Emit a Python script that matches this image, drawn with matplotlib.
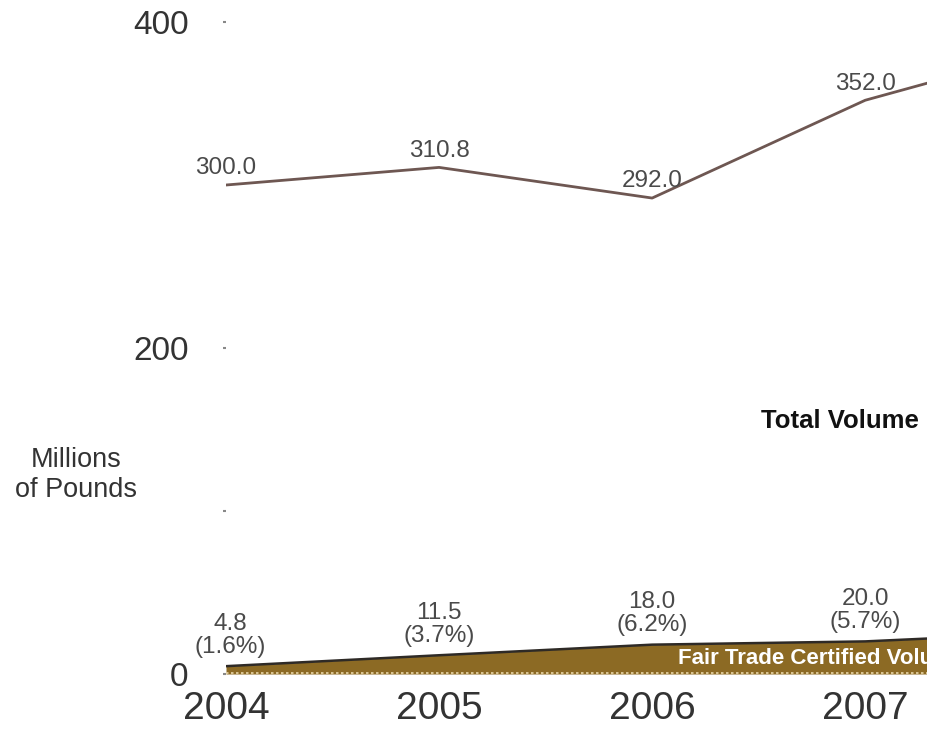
import numpy as np
import matplotlib.pyplot as plt

plt.rcParams['font.family'] = ['Liberation Sans', 'DejaVu Sans']

# data (2008 is only partly visible at the right edge)
years = [2004, 2005, 2006, 2007, 2008]
total = [300.0, 310.8, 292.0, 352.0, 388.0]
fair = [4.8, 11.5, 18.0, 20.0, 26.0]
fair_pct = ['1.6%', '3.7%', '6.2%', '5.7%', '']
ytick_vals = [0, 100, 200, 400]
ytick_labels = ['0', '', '200', '400']

fig = plt.figure(figsize=(9.27, 7.33), dpi=100)
ax = fig.add_axes([0.2438, 0.0805, 0.7562, 0.9117])

# fair trade area
ax.fill_between(years, 0, fair, color='#8c6a24', lw=0, zorder=2)
ax.plot(years, fair, color='#2e2a26', lw=1.8, zorder=3)
ax.plot([2004, 2008], [0.8, 0.8], color='#e8d6a8', lw=1.2, ls=(0, (1.5, 1.5)), zorder=3)

# total volume line
ax.plot(years, total, color='#6e5752', lw=2, zorder=3)

for x, v in zip(years[:4], total[:4]):
    ax.annotate(f'{v:.1f}', (x, v), xytext=(0, 12), textcoords='offset points',
                ha='center', va='center', fontsize=17.5, color='#4a4a4a', zorder=4)

for x, v, p in zip(years[:4], fair[:4], fair_pct[:4]):
    ax.annotate(f'{v:.1f}\n({p})', (x, v), xytext=(3 if x == 2004 else 0, 6),
                textcoords='offset points', ha='center', va='bottom',
                fontsize=17.5, color='#4a4a4a', linespacing=1.05, zorder=4)

# label runs past the right edge, as in the original crop
ax.text(2006.12, 9.5, 'Fair Trade Certified Volume', color='white', fontsize=16,
        fontweight='bold', ha='left', va='center', zorder=5, clip_on=False)
ax.text(2007.25, 155, 'Total Volume', color='#111111', fontsize=18.5,
        fontweight='bold', ha='right', va='center')

fig.text(0.082, 0.352, 'Millions\nof Pounds', ha='center', va='center',
         fontsize=19.5, color='#333333', linespacing=1.2)

ax.set_xlim(2004, 2007.29)
ax.set_ylim(0, 410)
ax.set_xticks(years[:4])
ax.set_xticklabels([str(y) for y in years[:4]], fontsize=28, color='#333333')
ax.set_yticks(ytick_vals)
ax.set_yticklabels(ytick_labels, fontsize=24, color='#333333')
ax.tick_params(axis='x', length=0, pad=12)
ax.tick_params(axis='y', length=2, width=1.5, color='#888888', pad=25)
for s in ax.spines.values():
    s.set_visible(False)

fig.savefig('out.png', dpi=100)
